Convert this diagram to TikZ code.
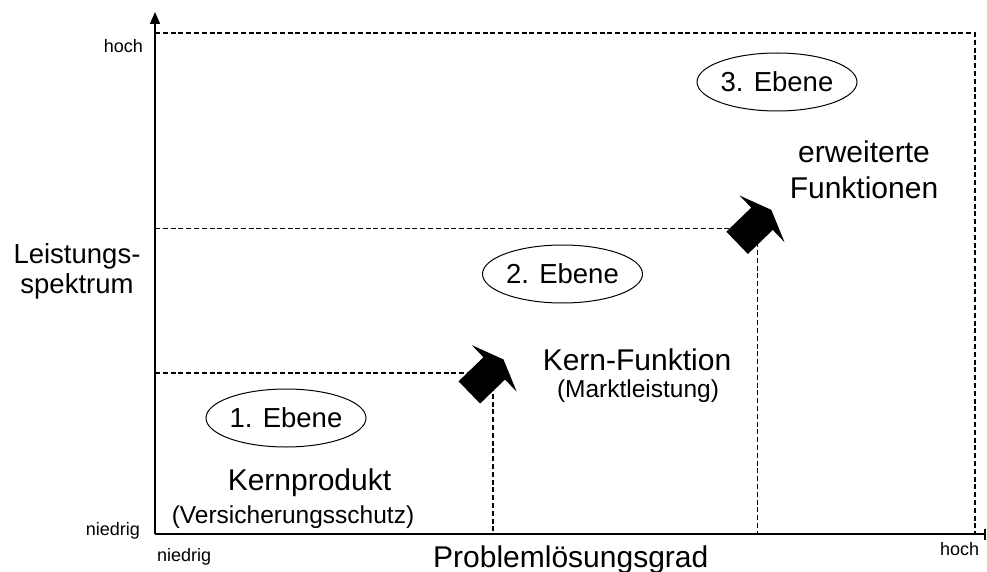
\documentclass[tikz,border=0pt]{standalone}
\usepackage{fontspec}
\setmainfont{Liberation Sans}
\usetikzlibrary{shapes.geometric,arrows.meta}
\begin{document}
\begin{tikzpicture}[x=1pt,y=-1pt,
  axis/.style={line width=1.7pt},
  guide/.style={line width=1.8pt, dash pattern=on 5pt off 2.8pt},
  level/.style={draw, ellipse, line width=1pt, minimum width=160pt,
    minimum height=58pt, inner sep=0pt, font=\fontsize{27.5}{30}\selectfont},
  big/.style={inner sep=0pt, anchor=base, font=\fontsize{30}{35}\selectfont},
  sub/.style={inner sep=0pt, anchor=base, font=\fontsize{24.5}{28}\selectfont},
  ticklabel/.style={inner sep=0pt, font=\fontsize{18}{20}\selectfont},
  blockarrow/.pic={\fill (-34.6,-15.5) -- (0,-15.5) -- (0,-32.4) -- (12.9,0)
    -- (0,32.4) -- (0,15.5) -- (-34.6,15.5) -- cycle;}
]
\fill[white] (0,0) rectangle (987,572);
\useasboundingbox (0,0) rectangle (987,572);

% axes
\coordinate (O) at (155,534);
\coordinate (ytop) at (155,12);
\coordinate (xend) at (986,534);

% corners of the three levels
\coordinate (k1) at (493,373);
\coordinate (k2) at (757.5,228.5);
\coordinate (k3) at (975,33);
\coordinate (k1y) at (155,373);
\coordinate (k2y) at (155,228.5);
\coordinate (k3y) at (155,33);
\coordinate (k1x) at (493,534);
\coordinate (k2x) at (757.5,534);
\coordinate (k3x) at (975,534);

\draw[guide] (k1y) -| (k1x);
\draw[guide] (k2y) -| (k2x);
\draw[guide] (k3y) -| (k3x);

\draw[axis,-{Triangle[length=12pt,width=10pt]}] (O) -- (ytop);
\draw[axis,-{Bar[width=11pt,line width=1.6pt]}] (O) -- (xend);

% step arrows
\pic[rotate=44] at (494.2,368.4) {blockarrow};
\pic[rotate=44] at (762,218.8) {blockarrow};

% axis labels
\node[ticklabel, anchor=base east] (yhi) at (143,53) {hoch};
\node[ticklabel, anchor=base east] (ylo) at (140,535) {niedrig};
\node[ticklabel, anchor=base west] (xlo) at (157,561) {niedrig};
\node[ticklabel, anchor=base west] (xhi) at (940,555) {hoch};
\node[inner sep=0pt, anchor=base, font=\fontsize{27.5}{30}\selectfont] (ylab1) at (77,263) {Leistungs-};
\node[inner sep=0pt, anchor=base, font=\fontsize{27.5}{30}\selectfont] (ylab2) at (77,293) {spektrum};
\node[inner sep=0pt, anchor=base west, font=\fontsize{30}{35}\selectfont] (xlab) at (433,567) {Problemlösungsgrad};

% levels
\node[level] (e1) at (286,418) {1. Ebene};
\node[level] (e2) at (562.5,274) {2. Ebene};
\node[level] (e3) at (777,82) {3. Ebene};

\node[big] (t1) at (309.5,490) {Kernprodukt};
\node[sub] (s1) at (293,523) {(Versicherungsschutz)};
\node[big] (t2) at (637,370) {Kern-Funktion};
\node[sub] (s2) at (638,397) {(Marktleistung)};
\node[big] (t3a) at (864,163) {erweiterte};
\node[big] (t3b) at (864,198) {Funktionen};
\end{tikzpicture}
\end{document}
